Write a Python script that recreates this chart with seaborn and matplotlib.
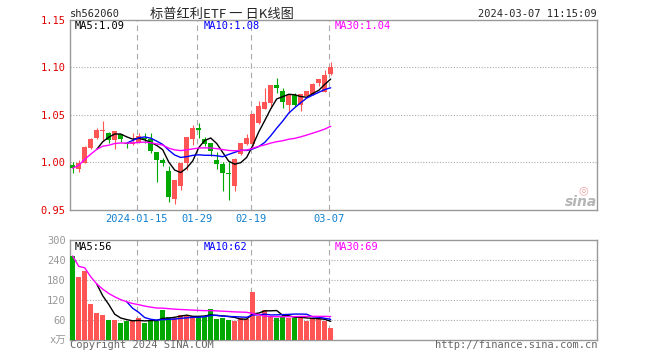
import numpy as np
import pandas as pd
import matplotlib
matplotlib.use('Agg')
import matplotlib.pyplot as plt
import seaborn as sns

# ---- daily bars (first session 2023-12-28, last 2024-03-07) ----
opens = [0.997, 0.993, 1.000, 1.015, 1.026, 1.033, 1.031, 1.024, 1.030, 1.021,
         1.019, 1.021, 1.026, 1.025, 1.011, 1.003, 0.991, 0.962, 0.975, 0.999,
         1.025, 1.036, 1.025, 1.021, 1.003, 0.998, 0.989, 0.975, 1.009, 1.020,
         1.019, 1.042, 1.0565, 1.063, 1.082, 1.0757, 1.061, 1.0715, 1.061, 1.070,
         1.0715, 1.0838, 1.074, 1.0935]
highs = [1.000, 1.003, 1.017, 1.026, 1.036, 1.044, 1.032, 1.033, 1.030, 1.022,
         1.031, 1.031, 1.031, 1.031, 1.011, 1.005, 0.996, 0.982, 0.999, 1.027,
         1.039, 1.042, 1.027, 1.021, 1.011, 1.000, 1.002, 1.005, 1.021, 1.030,
         1.052, 1.0645, 1.0785, 1.082, 1.089, 1.0785, 1.0715, 1.0733, 1.0726, 1.075,
         1.084, 1.088, 1.0978, 1.1054]
lows = [0.989, 0.990, 0.999, 1.014, 1.025, 1.024, 1.021, 1.014, 1.022, 1.015,
        1.018, 1.020, 1.021, 1.010, 0.979, 0.996, 0.958, 0.956, 0.971, 0.992,
        1.018, 1.026, 1.017, 1.007, 0.993, 0.970, 0.961, 0.970, 1.008, 1.018,
        1.017, 1.040, 1.056, 1.0575, 1.073, 1.0575, 1.0523, 1.0593, 1.054, 1.069,
        1.0715, 1.0803, 1.074, 1.092]
closes = [0.994, 1.000, 1.016, 1.025, 1.034, 1.034, 1.024, 1.033, 1.025, 1.019,
          1.022, 1.028, 1.025, 1.012, 1.003, 0.999, 0.964, 0.982, 0.999, 1.027,
          1.036, 1.034, 1.020, 1.012, 0.998, 0.989, 0.988, 1.004, 1.020, 1.026,
          1.0515, 1.059, 1.0635, 1.082, 1.0785, 1.0635, 1.0715, 1.061, 1.0726, 1.075,
          1.083, 1.088, 1.0925, 1.1005]
volume = [252, 190, 208, 109, 82, 75, 61, 60, 52, 58,
          57, 67, 52, 58, 58, 90, 70, 65, 75, 73,
          72, 70, 70, 93, 63, 66, 60, 57, 67, 63,
          144, 73, 90, 68, 67, 72, 67, 67, 67, 58,
          65, 63, 58, 36]  # 万手

date_tick_pos = [11, 21, 30, 43]
date_tick_labels = ['2024-01-15', '01-29', '02-19', '03-07']
price_ticks = [0.95, 1.00, 1.05, 1.10, 1.15]
vol_ticks = [0, 60, 120, 180, 240, 300]
vol_tick_labels = ['x万', '60', '120', '180', '240', '300']

price_ma_text = ['MA5:1.09', 'MA10:1.08', 'MA30:1.04']
vol_ma_text = ['MA5:56', 'MA10:62', 'MA30:69']

RED, GREEN = '#ff5555', '#00a800'
MA_COLORS = ['black', '#0000ff', '#ff00ff']
GRID = '#aaaaaa'

sns.set_style('white')
plt.rcParams['font.family'] = ['DejaVu Sans Mono', 'Noto Sans CJK SC']
plt.rcParams['axes.edgecolor'] = '#999999'
plt.rcParams['axes.linewidth'] = 1.0

df = pd.DataFrame({'day': np.arange(len(closes)), 'open': opens, 'high': highs,
                   'low': lows, 'close': closes, 'vol': volume})
df['dir'] = np.where(df['close'] >= df['open'], 'up', 'down')
for src, tag in [('close', 'p'), ('vol', 'v')]:
    df[f'{tag}ma5'] = df[src].rolling(5).mean()
    df[f'{tag}ma10'] = df[src].rolling(10).mean()
    df[f'{tag}ma30'] = df[src].rolling(30, min_periods=1).mean()

W, H = 660, 360
fig = plt.figure(figsize=(W / 100, H / 100), dpi=100)


def box(l, t, r, b):
    return [l / W, 1 - b / H, (r - l) / W, (b - t) / H]


def px(x, y):
    return x / W, 1 - y / H


axp = fig.add_axes(box(70, 20, 597, 210))
axv = fig.add_axes(box(70, 240, 597, 340))
XLIM = (-0.45, 87.38)

# ---- candles ----
colors = np.where(df['dir'] == 'up', RED, GREEN)
axp.vlines(df['day'], df['low'], df['high'], colors=colors, linewidth=0.8, zorder=3)
body_lo = np.minimum(df['open'], df['close'])
body_h = np.maximum((df['close'] - df['open']).abs(), 0.0009)
axp.bar(df['day'], body_h, bottom=body_lo, width=0.76, color=colors, linewidth=0, zorder=3)

# ---- volume ----
sns.barplot(data=df, x='day', y='vol', hue='dir', palette={'up': RED, 'down': GREEN},
            native_scale=True, dodge=False, width=0.83, errorbar=None, saturation=1,
            legend=False, linewidth=0, ax=axv, zorder=3)

# ---- moving averages ----
for ax, tag in [(axp, 'p'), (axv, 'v')]:
    for n, c in zip([5, 10, 30], MA_COLORS):
        sns.lineplot(data=df, x='day', y=f'{tag}ma{n}', color=c, linewidth=1.0, ax=ax, zorder=4)

# ---- grids, ticks, frame ----
vlines_x = [d - 0.35 for d in date_tick_pos]
for ax, ylim, hl in [(axp, (0.95, 1.15), price_ticks[1:-1]), (axv, (0, 300), vol_ticks[1:-1])]:
    ax.set_xlim(*XLIM)
    ax.set_ylim(*ylim)
    for y in hl:
        ax.axhline(y, color=GRID, linewidth=0.8, linestyle=(0, (1, 1.5)), zorder=1, clip_on=False)
    for x in vlines_x:
        ax.axvline(x, color=GRID, linewidth=0.8, linestyle=(0, (5, 3.5)), zorder=1)
    ax.set_xlabel('')
    ax.set_ylabel('')
    ax.tick_params(length=0)
    for s in ax.spines.values():
        s.set_color('#999999')

axp.set_yticks(price_ticks)
axp.set_yticklabels([f'{v:.2f}' for v in price_ticks], color='#e00000', fontsize=7.5)
axp.tick_params(axis='y', pad=3)
axp.set_xticks(vlines_x)
axp.set_xticklabels(date_tick_labels, color='#1080d0', fontsize=7.5)
axp.tick_params(axis='x', pad=3)

axv.set_yticks(vol_ticks)
axv.set_yticklabels(vol_tick_labels, color='#999999', fontsize=7.5)
axv.tick_params(axis='y', pad=3)
axv.set_xticks([])

# ---- text ----
for txt, x, c in zip(price_ma_text, [75, 204, 335], MA_COLORS):
    fig.text(*px(x, 26), txt, color=c, fontsize=7.5, va='center')
for txt, x, c in zip(vol_ma_text, [75, 204, 335], MA_COLORS):
    fig.text(*px(x, 247), txt, color=c, fontsize=7.5, va='center')

fig.text(*px(70, 17), 'sh562060', fontsize=7.5, va='baseline')
fig.text(*px(150, 18), '标普红利ETF 一 日K线图', fontsize=9.5, va='baseline',
         family=['Noto Sans CJK SC', 'DejaVu Sans'])
fig.text(*px(597, 17), '2024-03-07 11:15:09', fontsize=7.5, va='baseline', ha='right')
fig.text(*px(70, 345), 'Copyright 2024 SINA.COM', fontsize=7.5, va='center', color='#666666')
fig.text(*px(597, 345), 'http://finance.sina.com.cn', fontsize=7.5, va='center', ha='right',
         color='#666666')
fig.text(*px(597, 206), 'sina', fontsize=10, ha='right', va='baseline', color='#b5b5b5',
         style='italic', weight='bold', family='DejaVu Sans')
fig.text(*px(583, 190), '◎', fontsize=8, ha='center', va='center', color='#f4a0a0',
         family='DejaVu Sans')

fig.savefig('out.png', dpi=100)
